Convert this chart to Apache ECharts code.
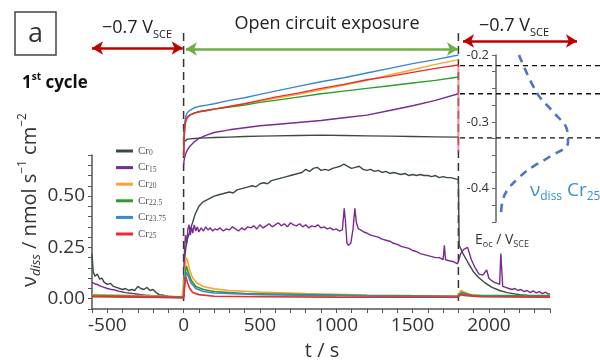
<!DOCTYPE html>
<html>
<head>
<meta charset="utf-8">
<script src="https://cdn.jsdelivr.net/npm/echarts@6/dist/echarts.min.js"></script>
<style>
  html, body { margin: 0; padding: 0; background: #fff; }
  #chart { width: 600px; height: 363px; }
</style>
</head>
<body>
<div id="chart"></div>
<script>
// ---- alloy names and colours ----
const alloyNames = ['Cr0', 'Cr15', 'Cr20', 'Cr22.5', 'Cr23.75', 'Cr25'];
const alloySubs = ['0', '15', '20', '22.5', '23.75', '25'];
const alloyColors = ['#3b4a42', '#7a2a92', '#f9a530', '#2c9c2c', '#3a87cf', '#ee2a2a'];

// ---- dissolution rate, nmol s^-1 cm^-2, [t / s, rate] ----
const vdissCr0 = [
  [-600,0.22],[-592,0.13],[-580,0.11],[-565,0.12],[-550,0.095],[-535,0.1],[-520,0.08],[-500,0.07],[-480,0.075],
  [-460,0.06],[-440,0.055],[-420,0.05],[-400,0.045],[-380,0.05],[-360,0.04],[-340,0.045],[-320,0.04],[-300,0.06],
  [-280,0.05],[-260,0.045],[-240,0.055],[-220,0.04],[-200,0.045],[-180,0.03],[-160,0.02],[-140,0.018],[-120,0.015],
  [-100,0.012],[-60,0.01],[-20,0.01],[0,0.01],
  [5,0.17],[10,0.22],[15,0.25],[25,0.29],[50,0.35],[75,0.41],[100,0.45],[125,0.47],[150,0.48],[175,0.49],[200,0.5],
  [225,0.505],[250,0.51],[275,0.515],[300,0.52],[325,0.515],[350,0.53],[375,0.535],[400,0.54],[425,0.545],[450,0.55],
  [475,0.545],[500,0.56],[525,0.565],[550,0.56],[575,0.575],[600,0.58],[625,0.585],[650,0.59],[675,0.595],[700,0.6],
  [725,0.605],[750,0.61],[775,0.615],[800,0.63],[825,0.62],[850,0.635],[875,0.64],[900,0.625],[925,0.63],[950,0.625],
  [975,0.635],[1000,0.64],[1025,0.645],[1050,0.655],[1075,0.645],[1100,0.635],[1125,0.64],[1150,0.645],[1175,0.63],
  [1200,0.625],[1225,0.63],[1250,0.62],[1275,0.625],[1300,0.615],[1325,0.62],[1350,0.61],[1375,0.615],[1400,0.61],
  [1425,0.605],[1450,0.61],[1475,0.6],[1500,0.605],[1525,0.6],[1550,0.605],[1575,0.6],[1600,0.6],[1625,0.595],
  [1650,0.6],[1675,0.59],[1700,0.595],[1725,0.59],[1750,0.59],[1775,0.585],[1800,0.58],
  [1805,0.26],[1830,0.22],[1860,0.18],[1900,0.13],[1930,0.105],[1970,0.08],[2020,0.055],[2070,0.04],[2120,0.03],
  [2200,0.02],[2300,0.012],[2400,0.01]
];
const vdissCr15 = [
  [-600,0.08],[-580,0.072],[-560,0.068],[-540,0.06],[-520,0.055],[-500,0.05],[-480,0.046],[-460,0.044],[-440,0.04],
  [-420,0.036],[-400,0.033],[-380,0.03],[-360,0.028],[-340,0.026],[-320,0.024],[-300,0.022],[-280,0.02],[-260,0.018],
  [-240,0.017],[-220,0.016],[-200,0.015],[-160,0.013],[-120,0.011],[-80,0.01],[-40,0.009],[0,0.008],
  [5,0.22],[12,0.31],[20,0.27],[28,0.34],[36,0.36],[44,0.31],[52,0.35],[60,0.32],[70,0.36],[80,0.33],[90,0.35],
  [100,0.325],[115,0.345],[130,0.33],[145,0.35],[160,0.335],[175,0.345],[190,0.33],[205,0.34],[220,0.335],[240,0.345],
  [260,0.33],[280,0.34],[300,0.335],[320,0.35],[340,0.34],[360,0.33],[380,0.345],[400,0.335],[420,0.35],[440,0.345],
  [460,0.355],[480,0.34],[500,0.36],[520,0.345],[540,0.355],[560,0.365],[580,0.35],[600,0.36],[620,0.37],[640,0.355],
  [660,0.365],[680,0.35],[700,0.37],[720,0.36],[740,0.355],[760,0.365],[780,0.35],[800,0.36],[820,0.345],[840,0.355],
  [860,0.35],[880,0.36],[900,0.345],[920,0.35],[940,0.34],[960,0.345],[980,0.335],[1000,0.34],[1020,0.33],[1040,0.335],
  [1052,0.44],[1060,0.38],[1070,0.27],[1080,0.26],[1095,0.27],[1110,0.34],[1122,0.44],[1132,0.37],[1145,0.34],
  [1160,0.335],[1180,0.325],[1200,0.32],[1225,0.31],[1250,0.305],[1275,0.3],[1300,0.29],[1325,0.285],[1350,0.28],
  [1375,0.27],[1400,0.265],[1425,0.255],[1450,0.25],[1475,0.245],[1500,0.235],[1525,0.23],[1550,0.22],[1575,0.215],
  [1600,0.21],[1625,0.205],[1650,0.2],[1675,0.2],[1700,0.19],[1708,0.26],[1716,0.19],[1740,0.185],[1770,0.18],
  [1795,0.17],[1800,0.17],[1815,0.22],[1835,0.24],[1860,0.25],[1885,0.19],[1910,0.15],[1935,0.12],[1960,0.115],
  [1985,0.14],[2000,0.1],[2015,0.09],[2035,0.08],[2055,0.075],[2070,0.07],[2078,0.22],[2090,0.06],[2110,0.055],
  [2130,0.05],[2150,0.045],[2170,0.05],[2190,0.04],[2210,0.045],[2230,0.035],[2250,0.04],[2270,0.03],[2290,0.038],
  [2310,0.028],[2330,0.035],[2350,0.025],[2370,0.032],[2390,0.022],[2400,0.025]
];
const vdissCr20 = [
  [-600,0.02],[-300,0.015],[-10,0.01],[0,0.01],[8,0.12],[15,0.2],[25,0.19],[40,0.14],[60,0.1],[90,0.075],[130,0.06],
  [200,0.048],[300,0.04],[500,0.032],[800,0.025],[1200,0.018],[1500,0.015],[1795,0.013],[1815,0.04],[1830,0.035],
  [1880,0.02],[2000,0.012],[2400,0.01]
];
const vdissCr225 = [
  [-600,0.015],[-300,0.012],[0,0.008],[8,0.1],[18,0.16],[30,0.13],[50,0.09],[80,0.06],[130,0.045],[200,0.035],
  [400,0.025],[800,0.02],[1200,0.015],[1795,0.012],[1820,0.03],[1900,0.015],[2400,0.015]
];
const vdissCr2375 = [
  [-600,0.012],[-300,0.01],[0,0.005],[8,0.08],[18,0.13],[30,0.11],[50,0.075],[80,0.05],[130,0.035],[200,0.028],
  [500,0.02],[1000,0.015],[1795,0.01],[1820,0.025],[1900,0.012],[2400,0.01]
];
const vdissCr25 = [
  [-600,0.01],[-300,0.008],[0,0.005],[8,0.07],[15,0.105],[25,0.08],[40,0.05],[60,0.03],[100,0.02],[200,0.012],
  [500,0.01],[1000,0.008],[1795,0.007],[1815,0.02],[1850,0.015],[1950,0.01],[2400,0.008]
];
const vdissSets = [vdissCr0, vdissCr15, vdissCr20, vdissCr225, vdissCr2375, vdissCr25];

// ---- open circuit potential, V vs SCE ----
const eocTime = [0, 3, 8, 15, 25, 40, 70, 100, 150, 200, 300, 400, 500, 600, 750, 900, 1050, 1200, 1350, 1500, 1650, 1800];
const eocCr0 = [-0.338, -0.332, -0.329, -0.327, -0.326, -0.3255, -0.325, -0.3245, -0.324, -0.3235, -0.323, -0.322,
  -0.3215, -0.321, -0.3205, -0.32, -0.3205, -0.321, -0.3215, -0.322, -0.3225, -0.323];
const eocCr15 = [-0.365, -0.358, -0.352, -0.347, -0.342, -0.337, -0.33, -0.325, -0.32, -0.316, -0.312, -0.309,
  -0.306, -0.304, -0.301, -0.298, -0.294, -0.29, -0.283, -0.276, -0.268, -0.258];
const eocCr20 = [-0.35, -0.325, -0.307, -0.298, -0.293, -0.29, -0.287, -0.285, -0.283, -0.281, -0.277, -0.273,
  -0.269, -0.265, -0.259, -0.252, -0.245, -0.238, -0.23, -0.222, -0.214, -0.207];
const eocCr225 = [-0.35, -0.325, -0.307, -0.298, -0.293, -0.29, -0.287, -0.285, -0.283, -0.281, -0.278, -0.275,
  -0.271, -0.268, -0.263, -0.258, -0.254, -0.25, -0.246, -0.242, -0.238, -0.233];
const eocCr2375 = [-0.35, -0.32, -0.3, -0.291, -0.286, -0.283, -0.279, -0.277, -0.275, -0.273, -0.268, -0.264,
  -0.259, -0.254, -0.247, -0.24, -0.234, -0.227, -0.22, -0.213, -0.207, -0.2];
const eocCr25 = [-0.35, -0.325, -0.307, -0.298, -0.293, -0.29, -0.287, -0.285, -0.283, -0.281, -0.277, -0.273,
  -0.268, -0.263, -0.257, -0.25, -0.244, -0.237, -0.232, -0.226, -0.22, -0.215];
const eocSets = [eocCr0, eocCr15, eocCr20, eocCr225, eocCr2375, eocCr25];
// Cr25 potential falling away once -0.7 V is re-applied at t = 1800 s
const eocCr25Switch = [[1800, -0.215], [1800, -0.345]];

// ---- final OCP levels (dashed guides) and sketched Cr25 dissolution profile ----
const eocFinalLevels = [-0.216, -0.258, -0.324];
const profileRate = [59, 77, 93, 107, 108, 90, 73, 60, 48, 43, 41];
const profileEoc = [-0.2, -0.257, -0.285, -0.312, -0.331, -0.352, -0.367, -0.382, -0.401, -0.416, -0.436];

// ---- step boundaries, s ----
const stepBounds = [0, 1800];

// ---- axis ticks ----
const tMin = -600, tMax = 2400, tLabelStep = 500;
const vMin = -0.05, vMax = 0.70, vLabelStep = 0.25;
const eMin = -0.45, eMax = -0.2, eLabelStep = 0.1;

const FONT = '"Open Sans", "Liberation Sans", sans-serif';
const TXT = '#333';

const chart = echarts.init(document.getElementById('chart'), null, { renderer: 'canvas' });

// layout: main plot spans x 92..550 px; annotation grid extends to the right edge
const plotLeft = 92, plotRight = 50;
const pxPerSec = (600 - plotLeft - plotRight) / (tMax - tMin);
const annotMax = tMin + (600 - plotLeft) / pxPerSec;

const isMultiple = (v, step) => Math.abs(v / step - Math.round(v / step)) < 1e-6;

const series = [];
alloyNames.forEach((name, i) => {
  series.push({
    name, type: 'line', xAxisIndex: 0, yAxisIndex: 0,
    data: vdissSets[i], showSymbol: false, symbol: 'none',
    lineStyle: { color: alloyColors[i], width: i < 2 ? 1.4 : 1.6 },
    itemStyle: { color: alloyColors[i] },
    emphasis: { disabled: true }, z: 3 + i
  });
});
alloyNames.forEach((name, i) => {
  series.push({
    name, type: 'line', xAxisIndex: 1, yAxisIndex: 1,
    data: eocTime.map((t, k) => [t, eocSets[i][k]]),
    smooth: false, showSymbol: false, symbol: 'none',
    lineStyle: { color: alloyColors[i], width: 1.4, join: 'round' },
    itemStyle: { color: alloyColors[i] },
    emphasis: { disabled: true }, z: 3 + i
  });
});
series.push({
  type: 'line', xAxisIndex: 1, yAxisIndex: 1, data: eocCr25Switch,
  showSymbol: false, symbol: 'none',
  lineStyle: { color: '#f06070', width: 2, opacity: 0.7 }, z: 2
});
// dashed guides at the final potentials
eocFinalLevels.forEach(level => {
  series.push({
    type: 'line', xAxisIndex: 2, yAxisIndex: 2, data: [[0, level], [140, level]],
    showSymbol: false, symbol: 'none',
    lineStyle: { color: '#111', width: 1.3, type: [5, 4] }, z: 2
  });
});
series.push({
  type: 'line', xAxisIndex: 2, yAxisIndex: 2,
  data: profileRate.map((r, k) => [r, profileEoc[k]]),
  smooth: 0.4, showSymbol: false, symbol: 'none',
  lineStyle: { color: '#4f74c2', width: 2.6, type: [8, 6] }, z: 4
});
// vertical dashed lines marking the potential steps
stepBounds.forEach(t => {
  series.push({
    type: 'line', xAxisIndex: 3, yAxisIndex: 3, data: [[t, 33], [t, 304]],
    showSymbol: false, symbol: 'none',
    lineStyle: { color: '#333', width: 1.5, type: [8, 5] }, z: 1
  });
});
// step arrows
function arrow(t0, t1, y, color) {
  return {
    type: 'line', xAxisIndex: 3, yAxisIndex: 3, data: [], silent: true,
    markLine: {
      silent: true, symbol: ['arrow', 'arrow'], symbolSize: [10, 11],
      label: { show: false },
      lineStyle: { color, width: 2.6, type: 'solid' },
      data: [[{ coord: [t0, y] }, { coord: [t1, y] }]],
      animation: false
    }
  };
}
series.push(arrow(-600, -6, 48, '#c00000'));
series.push(arrow(15, 1797, 49, '#70ad47'));
series.push(arrow(1830, 2577, 41, '#c00000'));

const option = {
  animation: false,
  backgroundColor: '#fff',
  legend: {
    data: alloyNames, orient: 'vertical', left: 111, top: 140,
    icon: 'rect', itemWidth: 17, itemHeight: 3, itemGap: 4.6,
    selectedMode: false,
    formatter: name => 'Cr{s|' + alloySubs[alloyNames.indexOf(name)] + '}',
    textStyle: {
      fontFamily: '"Liberation Serif", serif', fontSize: 11, color: '#555', lineHeight: 12,
      rich: { s: { fontFamily: '"Liberation Serif", serif', fontSize: 7.5, color: '#555', verticalAlign: 'bottom', lineHeight: 12 } }
    }
  },
  grid: [
    { left: plotLeft, right: plotRight, top: 155, bottom: 54 },
    { left: plotLeft, right: plotRight, top: 55, bottom: 141 },
    { left: 460, right: 0, top: 55, bottom: 141 },
    { left: plotLeft, right: 0, top: 0, bottom: 0 }
  ],
  xAxis: [
    {
      gridIndex: 0, type: 'value', min: tMin, max: tMax, interval: 100,
      axisLine: { onZero: false, lineStyle: { color: '#555', width: 1.5 } },
      axisTick: { length: 4, lineStyle: { color: '#555', width: 1 } },
      splitLine: { show: false },
      axisLabel: {
        margin: 7, fontFamily: FONT, fontSize: 19, color: TXT,
        formatter: v => isMultiple(v, tLabelStep) ? String(v) : ''
      }
    },
    { gridIndex: 1, type: 'value', min: tMin, max: tMax, show: false },
    { gridIndex: 2, type: 'value', min: 0, max: 140, show: false },
    { gridIndex: 3, type: 'value', min: tMin, max: annotMax, show: false }
  ],
  yAxis: [
    {
      gridIndex: 0, type: 'value', min: vMin, max: vMax, interval: 0.05,
      axisLine: { show: true, onZero: false, lineStyle: { color: '#555', width: 1.5 } },
      axisTick: { show: true, length: 4, lineStyle: { color: '#555', width: 1 } },
      splitLine: { show: false },
      axisLabel: {
        margin: 7, fontFamily: FONT, fontSize: 19, color: TXT,
        formatter: v => (v >= 0 && isMultiple(v, vLabelStep)) ? v.toFixed(2) : ''
      }
    },
    {
      gridIndex: 1, type: 'value', min: eMin, max: eMax, interval: 0.025,
      position: 'right', offset: -54,
      axisLine: { show: true, onZero: false, lineStyle: { color: '#666', width: 1.5 } },
      axisTick: { show: true, inside: true, length: 4, lineStyle: { color: '#666', width: 1 } },
      splitLine: { show: false },
      axisLabel: {
        inside: true, margin: 7, fontFamily: FONT, fontSize: 13, color: TXT,
        formatter: v => isMultiple(v, eLabelStep) ? v.toFixed(1) : ''
      }
    },
    { gridIndex: 2, type: 'value', min: eMin, max: eMax, show: false },
    { gridIndex: 3, type: 'value', min: 0, max: 363, inverse: true, show: false }
  ],
  series,
  graphic: [
    { type: 'rect', shape: { x: 15, y: 12, width: 41, height: 43 },
      style: { fill: 'none', stroke: '#444', lineWidth: 1.5 } },
    { type: 'text', x: 35.5, y: 34,
      style: { text: 'a', fontFamily: FONT, fontSize: 27, fill: TXT, align: 'center', verticalAlign: 'middle' } },
    { type: 'text', x: 22, y: 83,
      style: {
        text: '{b|1}{p|st}{b| cycle}', align: 'left', verticalAlign: 'middle',
        rich: {
          b: { fontFamily: FONT, fontSize: 17, fontWeight: 'bold', fill: '#111', lineHeight: 22 },
          p: { fontFamily: FONT, fontSize: 10, fontWeight: 'bold', fill: '#111', verticalAlign: 'top', lineHeight: 12 }
        }
      } },
    { type: 'text', x: 137, y: 28,
      style: {
        text: '{m|\u22120.7 V}{s|SCE}', align: 'center', verticalAlign: 'middle',
        rich: {
          m: { fontFamily: FONT, fontSize: 18, fill: '#222', lineHeight: 24 },
          s: { fontFamily: FONT, fontSize: 11, fill: '#222', verticalAlign: 'bottom', lineHeight: 13 }
        }
      } },
    { type: 'text', x: 327, y: 24,
      style: { text: 'Open circuit exposure', fontFamily: FONT, fontSize: 18, fill: '#222', align: 'center', verticalAlign: 'middle' } },
    { type: 'text', x: 514, y: 26,
      style: {
        text: '{m|\u22120.7 V}{s|SCE}', align: 'center', verticalAlign: 'middle',
        rich: {
          m: { fontFamily: FONT, fontSize: 18, fill: '#222', lineHeight: 24 },
          s: { fontFamily: FONT, fontSize: 11, fill: '#222', verticalAlign: 'bottom', lineHeight: 13 }
        }
      } },
    { type: 'text', x: 322, y: 351,
      style: { text: 't / s', fontFamily: FONT, fontSize: 20, fill: TXT, align: 'center', verticalAlign: 'middle' } },
    { type: 'text', x: 30, y: 200, rotation: Math.PI / 2,
      style: {
        text: '{m|\u03bd}{i|diss}{m| / nmol s}{p|\u22121}{m| cm}{p|\u22122}', align: 'center', verticalAlign: 'middle',
        rich: {
          m: { fontFamily: FONT, fontSize: 20, fill: TXT, lineHeight: 26 },
          i: { fontFamily: FONT, fontSize: 13, fontStyle: 'italic', fill: TXT, verticalAlign: 'bottom', lineHeight: 16 },
          p: { fontFamily: FONT, fontSize: 12, fill: TXT, verticalAlign: 'top', lineHeight: 14 }
        }
      } },
    { type: 'text', x: 502, y: 240,
      style: {
        text: '{m|E}{s|oc}{m| / V}{s|SCE}', align: 'center', verticalAlign: 'middle',
        rich: {
          m: { fontFamily: FONT, fontSize: 14, fill: TXT, lineHeight: 18 },
          s: { fontFamily: FONT, fontSize: 9, fill: TXT, verticalAlign: 'bottom', lineHeight: 10 }
        }
      } },
    { type: 'text', x: 530, y: 191,
      style: {
        text: '{m|\u03bd}{s|diss}{m| Cr}{s|25}', align: 'left', verticalAlign: 'middle',
        rich: {
          m: { fontFamily: FONT, fontSize: 19, fill: '#3a8fd0', lineHeight: 24 },
          s: { fontFamily: FONT, fontSize: 12, fill: '#3a8fd0', verticalAlign: 'bottom', lineHeight: 14 }
        }
      } }
  ]
};

chart.setOption(option);
</script>
</body>
</html>
